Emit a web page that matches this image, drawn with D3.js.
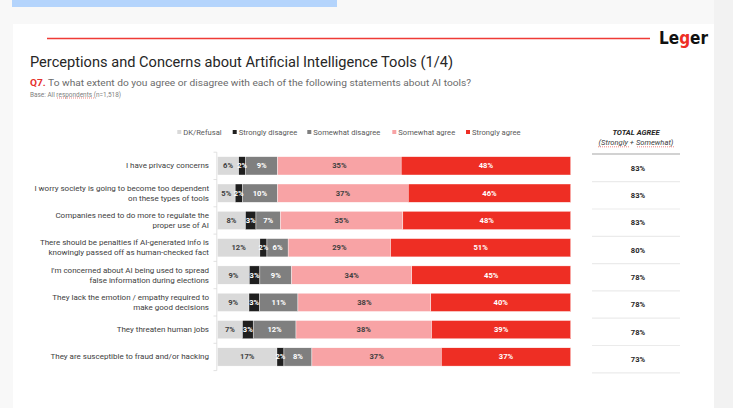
<!DOCTYPE html>
<html>
<head>
<meta charset="utf-8">
<script src="https://cdn.jsdelivr.net/npm/d3@7"></script>
<style>
  body { margin: 0; background: #f7f7f7; }
  svg { display: block; font-family: Roboto, "Liberation Sans", sans-serif; }
</style>
</head>
<body>
<div id="chart"></div>
<script>
// data
var categories = [
  ["I have privacy concerns"],
  ["I worry society is going to become too dependent", "on these types of tools"],
  ["Companies need to do more to regulate the", "proper use of AI"],
  ["There should be penalties if AI-generated info is", "knowingly passed off as human-checked fact"],
  ["I'm concerned about AI being used to spread", "false information during elections"],
  ["They lack the emotion / empathy required to", "make good decisions"],
  ["They threaten human jobs"],
  ["They are susceptible to fraud and/or hacking"]
];
var seriesNames = ["DK/Refusal", "Strongly disagree", "Somewhat disagree", "Somewhat agree", "Strongly agree"];
var dkRefusal        = [6, 5, 8, 12, 9, 9, 7, 17];
var stronglyDisagree = [2, 2, 3, 2, 3, 3, 3, 2];
var somewhatDisagree = [9, 10, 7, 6, 9, 11, 12, 8];
var somewhatAgree    = [35, 37, 35, 29, 34, 38, 38, 37];
var stronglyAgree    = [48, 46, 48, 51, 45, 40, 39, 37];
var totalAgree       = [83, 83, 83, 80, 78, 78, 78, 73];

var colors = ["#d9d9d9", "#1f1f1f", "#7f7f7f", "#f8a3a5", "#ee2e24"];
var labelColors = ["#404040", "#ffffff", "#ffffff", "#404040", "#ffffff"];

var svgWidth = 733, svgHeight = 408;

var svg = d3.select("#chart")
  .append("svg")
  .attr("width", svgWidth)
  .attr("height", svgHeight);

// page background pieces
svg.append("rect").attr("x", 0).attr("y", 0).attr("width", svgWidth).attr("height", svgHeight).attr("fill", "#f8f8f8");
svg.append("rect").attr("x", 12).attr("y", 0).attr("width", 325).attr("height", 7).attr("fill", "#b4d4fc");
svg.append("rect").attr("x", 714).attr("y", 0).attr("width", 19).attr("height", svgHeight).attr("fill", "#f2f2f2");
svg.append("rect").attr("x", 13).attr("y", 24).attr("width", 701).attr("height", 384).attr("fill", "#ffffff");

// header
svg.append("line")
  .attr("x1", 47).attr("x2", 650).attr("y1", 38.5).attr("y2", 38.5)
  .attr("stroke", "#ef3b36").attr("stroke-width", 1.3);

var logo = svg.append("text")
  .attr("x", 659).attr("y", 43.5)
  .attr("font-family", "'Liberation Sans Narrow', 'DejaVu Sans Condensed', sans-serif")
  .attr("font-weight", "bold")
  .attr("font-size", 17)
  .attr("textLength", 49)
  .attr("lengthAdjust", "spacingAndGlyphs")
  .attr("fill", "#111");
logo.append("tspan").text("Le");
logo.append("tspan").attr("fill", "#ee2e24").text("g");
logo.append("tspan").text("er");

svg.append("text")
  .attr("x", 30).attr("y", 67)
  .attr("font-size", 15)
  .attr("fill", "#262626")
  .attr("textLength", 423)
  .attr("lengthAdjust", "spacingAndGlyphs")
  .text("Perceptions and Concerns about Artificial Intelligence Tools (1/4)");

var q = svg.append("text")
  .attr("x", 30).attr("y", 86)
  .attr("font-size", 9.5)
  .attr("fill", "#6b6b6b")
  .attr("textLength", 441)
  .attr("lengthAdjust", "spacingAndGlyphs");
q.append("tspan").attr("fill", "#e5322d").attr("font-weight", "bold").text("Q7.");
q.append("tspan").text(" To what extent do you agree or disagree with each of the following statements about AI tools?");

svg.append("text")
  .attr("x", 30).attr("y", 96.5)
  .attr("font-size", 6.4)
  .attr("fill", "#808080")
  .attr("textLength", 91)
  .attr("lengthAdjust", "spacingAndGlyphs")
  .text("Base: All respondents (n=1,518)");
svg.append("line")
  .attr("x1", 57).attr("x2", 94).attr("y1", 98).attr("y2", 98)
  .attr("stroke", "#e5322d").attr("stroke-width", 0.6).attr("stroke-dasharray", "1,1");

// scales
var y = d3.scaleBand()
  .domain(d3.range(categories.length))
  .range([152.2, 370.6])
  .paddingInner(0.33)
  .paddingOuter(0.165);

var x = d3.scaleLinear()
  .domain([0, 100])
  .range([217.5, 570.7]);

var allSeries = [dkRefusal, stronglyDisagree, somewhatDisagree, somewhatAgree, stronglyAgree];

// stack each row, normalised to 100% like the spreadsheet chart
var rows = categories.map(function(c, i) {
  var total = d3.sum(allSeries, function(s) { return s[i]; });
  var cum = 0;
  return allSeries.map(function(s, k) {
    var seg = { row: i, series: k, value: s[i], x0: cum / total * 100 };
    cum += s[i];
    seg.x1 = cum / total * 100;
    return seg;
  });
});

// legend
var legend = svg.append("g").attr("font-size", 7.6).attr("fill", "#595959");
var legendX = [177.3, 232.7, 307.3, 392.3, 466];
seriesNames.forEach(function(name, k) {
  legend.append("rect")
    .attr("x", legendX[k]).attr("y", 130)
    .attr("width", 4).attr("height", 4)
    .attr("fill", colors[k]);
  legend.append("text")
    .attr("x", legendX[k] + 6).attr("y", 132)
    .attr("dominant-baseline", "central")
    .text(name);
});

// bars
var barGroup = svg.append("g");
rows.forEach(function(row) {
  var g = barGroup.append("g");
  g.selectAll("rect")
    .data(row)
    .enter()
    .append("rect")
    .attr("x", d => x(d.x0))
    .attr("y", d => y(d.row))
    .attr("width", d => x(d.x1) - x(d.x0))
    .attr("height", y.bandwidth())
    .attr("fill", d => colors[d.series])
    .attr("stroke", "#ffffff")
    .attr("stroke-width", 0.4);

  g.selectAll("text")
    .data(row)
    .enter()
    .append("text")
    .attr("x", d => (x(d.x0) + x(d.x1)) / 2)
    .attr("y", d => y(d.row) + y.bandwidth() / 2)
    .attr("text-anchor", "middle")
    .attr("dominant-baseline", "central")
    .attr("font-size", 7.6)
    .attr("font-weight", "bold")
    .attr("fill", d => labelColors[d.series])
    .text(d => d.value + "%");
});

// category axis
var axisG = svg.append("g");
axisG.append("line")
  .attr("x1", 216.8).attr("x2", 216.8)
  .attr("y1", 152.2).attr("y2", 370.6)
  .attr("stroke", "#d9d9d9").attr("stroke-width", 0.8);
axisG.selectAll("line.tick")
  .data(d3.range(categories.length + 1))
  .enter()
  .append("line")
  .attr("class", "tick")
  .attr("x1", 213.5).attr("x2", 216.8)
  .attr("y1", d => 152.2 + d * y.step())
  .attr("y2", d => 152.2 + d * y.step())
  .attr("stroke", "#d9d9d9").attr("stroke-width", 0.8);

var catLabels = axisG.selectAll("text.cat")
  .data(categories)
  .enter()
  .append("text")
  .attr("class", "cat")
  .attr("text-anchor", "end")
  .attr("font-size", 8)
  .attr("fill", "#404040");
catLabels.each(function(lines, i) {
  var t = d3.select(this);
  var cy = y(i) + y.bandwidth() / 2;
  lines.forEach(function(line, j) {
    t.append("tspan")
      .attr("x", 209)
      .attr("y", cy + (j - (lines.length - 1) / 2) * 10)
      .attr("dominant-baseline", "central")
      .text(line);
  });
});

// total agree column
var tableX = 636;
svg.append("text")
  .attr("x", tableX).attr("y", 132.5)
  .attr("text-anchor", "middle").attr("dominant-baseline", "central")
  .attr("font-size", 7.6).attr("font-weight", "bold").attr("font-style", "italic")
  .attr("fill", "#262626")
  .text("TOTAL AGREE");
svg.append("text")
  .attr("x", tableX).attr("y", 142.7)
  .attr("text-anchor", "middle").attr("dominant-baseline", "central")
  .attr("font-size", 7.6).attr("font-style", "italic")
  .attr("fill", "#404040")
  .text("(Strongly + Somewhat)");
// spell-check squiggles under the two words
[[598, 629], [637, 674]].forEach(function(seg) {
  svg.append("line")
    .attr("x1", seg[0]).attr("x2", seg[1]).attr("y1", 146.8).attr("y2", 146.8)
    .attr("stroke", "#e5322d").attr("stroke-width", 0.6).attr("stroke-dasharray", "1,1");
});
svg.append("line")
  .attr("x1", 592).attr("x2", 680).attr("y1", 154).attr("y2", 154)
  .attr("stroke", "#a6a6a6").attr("stroke-width", 1.2);

svg.selectAll("line.sep")
  .data(totalAgree)
  .enter()
  .append("line")
  .attr("class", "sep")
  .attr("x1", 592).attr("x2", 680)
  .attr("y1", (d, i) => y(i) + y.step() - 2.3)
  .attr("y2", (d, i) => y(i) + y.step() - 2.3)
  .attr("stroke", "#ebebeb").attr("stroke-width", 1.2);

svg.selectAll("text.total")
  .data(totalAgree)
  .enter()
  .append("text")
  .attr("class", "total")
  .attr("x", tableX + 2)
  .attr("y", (d, i) => y(i) + y.bandwidth() / 2 + 2.5)
  .attr("text-anchor", "middle").attr("dominant-baseline", "central")
  .attr("font-size", 7.6).attr("font-weight", "bold")
  .attr("fill", "#262626")
  .text(d => d + "%");
</script>
</body>
</html>
